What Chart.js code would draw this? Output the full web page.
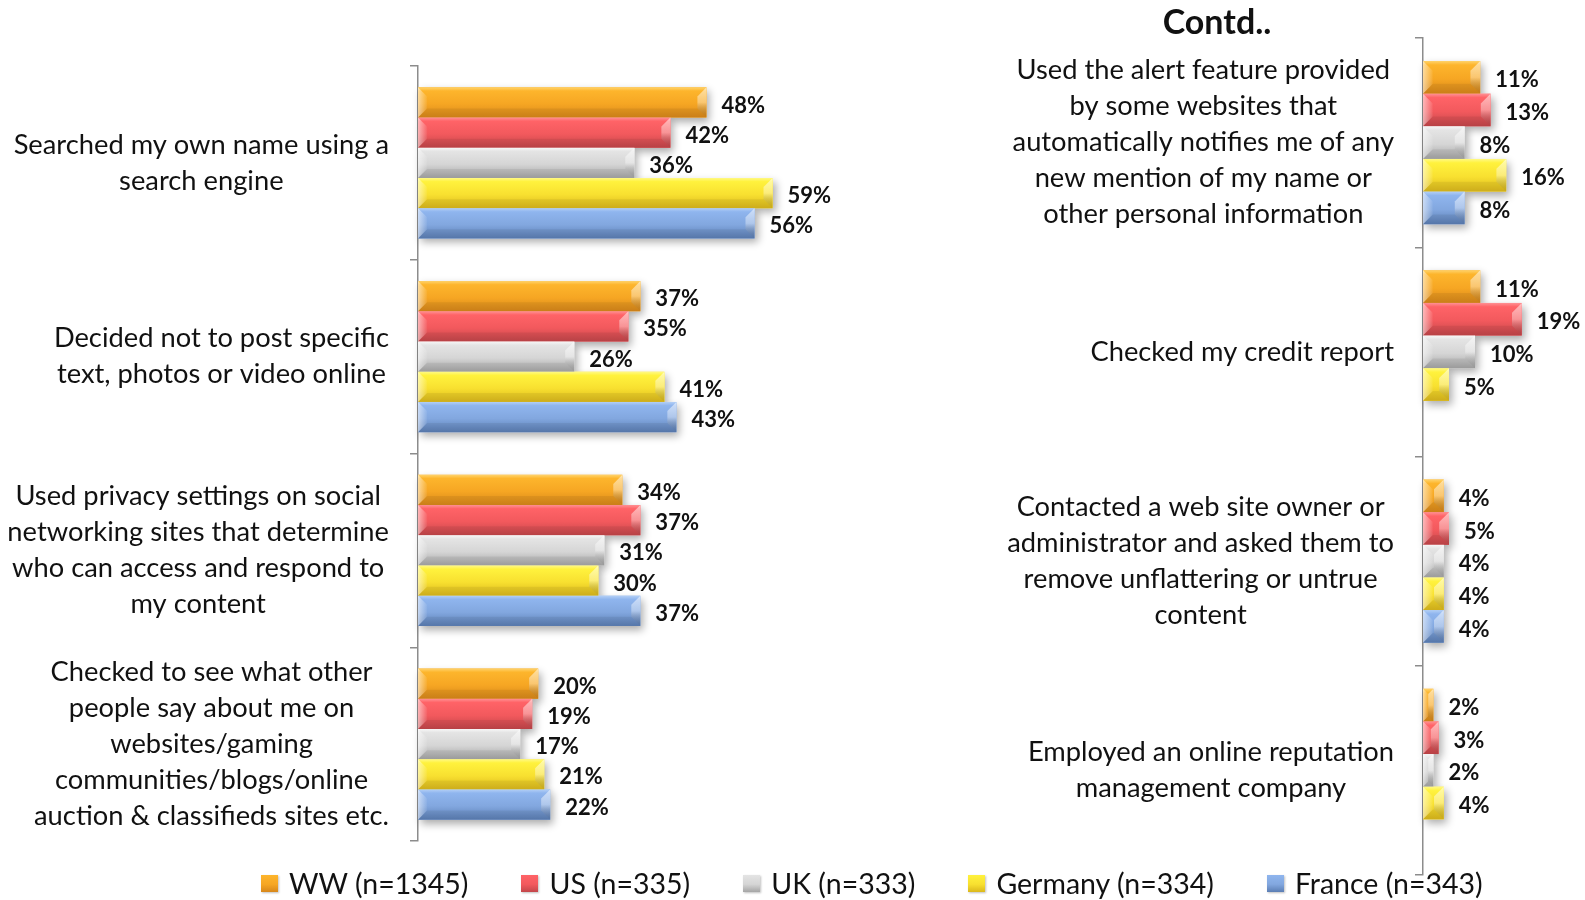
<!DOCTYPE html>
<html>
<head>
<meta charset="utf-8">
<title>Online reputation actions</title>
<script src="https://cdn.jsdelivr.net/npm/chart.js@4.4.1/dist/chart.umd.min.js"></script>
<style>
body { margin: 0; background: #fff; font-family: Lato, sans-serif; color: #111; }
#wrap { position: relative; width: 1585px; height: 900px; overflow: hidden; }
#wrap canvas { position: absolute; left: 0; top: 0; }
#contd { position: absolute; left: 1117px; top: 1px; width: 200px; text-align: center; font-weight: bold; font-size: 34px; line-height: 40px; }
#legend { position: absolute; left: 261px; top: 865px; display: flex; align-items: center; gap: 53px; font-size: 28.5px; line-height: 36px; }
#legend span.item { display: flex; align-items: center; }
#legend span.box { display: inline-block; width: 17px; height: 17px; margin-right: 11px; box-shadow: 1px 1px 2px rgba(0,0,0,0.25); }
</style>
</head>
<body>
<div id="wrap">
  <canvas id="left-chart" width="1585" height="900"></canvas>
  <canvas id="right-chart" width="1585" height="900"></canvas>
  <div id="contd">Contd..</div>
  <div id="legend"></div>
</div>
<script type="text/javascript">
var seriesNames = ["WW (n=1345)", "US (n=335)", "UK (n=333)", "Germany (n=334)", "France (n=343)"];

var leftCategories = [
  ["Searched my own name using a", "search engine"],
  ["Decided not to post specific", "text, photos or video online"],
  ["Used privacy settings on social", "networking sites that determine", "who can access and respond to", "my content"],
  ["Checked to see what other", "people say about me on", "websites/gaming", "communities/blogs/online", "auction & classifieds sites etc."]
];
var leftWW      = [48, 37, 34, 20];
var leftUS      = [42, 35, 37, 19];
var leftUK      = [36, 26, 31, 17];
var leftGermany = [59, 41, 30, 21];
var leftFrance  = [56, 43, 37, 22];

var rightCategories = [
  ["Used the alert feature provided", "by some websites that", "automatically notifies me of any", "new mention of my name or", "other personal information"],
  ["Checked my credit report"],
  ["Contacted a web site owner or", "administrator and asked them to", "remove unflattering or untrue", "content"],
  ["Employed an online reputation", "management company"]
];
var rightWW      = [11, 11, 4, 2];
var rightUS      = [13, 19, 5, 3];
var rightUK      = [8, 10, 4, 2];
var rightGermany = [16, 5, 4, 4];
var rightFrance  = [8, null, 4, null];

// colour ramps for the bevelled bars: light edge, top, middle, dark bottom
var seriesColors = [
  ["#FFD36B", "#FDB52C", "#F6A623", "#D7871A"],
  ["#FF9194", "#FF6367", "#F2595D", "#C3464A"],
  ["#F7F7F7", "#E4E4E4", "#D5D5D5", "#A5A5A5"],
  ["#FFF985", "#FFF23D", "#F8E030", "#DBB81C"],
  ["#B3CFF6", "#8FB5EE", "#82A7DF", "#5B7EB4"]
];

function barRect(bar) {
  var p = bar.getProps(["x", "y", "base", "height"], true);
  var l = Math.min(p.x, p.base);
  return { l: l, t: p.y - p.height / 2, w: Math.abs(p.x - p.base), h: p.height, y: p.y, r: l + Math.abs(p.x - p.base) };
}

function eachBar(chart, fn) {
  chart.data.datasets.forEach(function(ds, di) {
    var meta = chart.getDatasetMeta(di);
    meta.data.forEach(function(bar, i) {
      if (ds.data[i] == null) return;
      fn(barRect(bar), di, ds.data[i]);
    });
  });
}

var bevelPlugin = {
  id: "bevel",
  beforeDatasetsDraw: function(chart) {
    // soft drop shadow behind each group of bars
    var c = chart.ctx;
    c.save();
    c.shadowColor = "rgba(0,0,0,0.33)";
    c.shadowBlur = 8;
    c.shadowOffsetX = 3;
    c.shadowOffsetY = 4;
    c.fillStyle = "#fff";
    eachBar(chart, function(r) { c.fillRect(r.l, r.t, r.w, r.h); });
    c.restore();
  },
  afterDatasetsDraw: function(chart) {
    var c = chart.ctx;
    c.save();
    eachBar(chart, function(r, di) {
      var col = seriesColors[di];
      var g = c.createLinearGradient(0, r.t, 0, r.t + r.h);
      g.addColorStop(0, col[0]);
      g.addColorStop(0.12, col[1]);
      g.addColorStop(0.55, col[2]);
      g.addColorStop(1, col[3]);
      c.fillStyle = g;
      c.fillRect(r.l, r.t, r.w, r.h);

      var b = Math.min(r.h * 0.3, r.w / 2);
      // left end bevel
      var gl = c.createLinearGradient(r.l, 0, r.l + b, 0);
      gl.addColorStop(0, "rgba(255,255,255,0.55)");
      gl.addColorStop(1, "rgba(255,255,255,0.05)");
      c.fillStyle = gl;
      c.beginPath();
      c.moveTo(r.l, r.t);
      c.lineTo(r.l + b, r.t + b);
      c.lineTo(r.l + b, r.t + r.h - b);
      c.lineTo(r.l, r.t + r.h);
      c.closePath();
      c.fill();
      // right end bevel
      var gr = c.createLinearGradient(0, r.t, 0, r.t + r.h);
      gr.addColorStop(0, "rgba(255,255,255,0.55)");
      gr.addColorStop(0.5, "rgba(255,255,255,0.35)");
      gr.addColorStop(1, "rgba(0,0,0,0.08)");
      c.fillStyle = gr;
      c.beginPath();
      c.moveTo(r.r, r.t);
      c.lineTo(r.r - b, r.t + b);
      c.lineTo(r.r - b, r.t + r.h - b);
      c.lineTo(r.r, r.t + r.h);
      c.closePath();
      c.fill();
      // bottom shade
      c.fillStyle = "rgba(0,0,0,0.06)";
      c.beginPath();
      c.moveTo(r.l, r.t + r.h);
      c.lineTo(r.l + b, r.t + r.h - b);
      c.lineTo(r.r - b, r.t + r.h - b);
      c.lineTo(r.r, r.t + r.h);
      c.closePath();
      c.fill();
    });
    c.restore();
  },
  afterDraw: function(chart) {
    var c = chart.ctx;
    var yScale = chart.scales.y;
    var axisX = chart.chartArea.left;
    c.save();
    // category labels, each block centred on itself and right-aligned to the axis
    c.font = "27.3px Lato";
    c.fillStyle = "#111";
    c.textBaseline = "middle";
    c.textAlign = "center";
    chart.data.labels.forEach(function(lines, i) {
      var w = 0;
      lines.forEach(function(s) { w = Math.max(w, c.measureText(s).width); });
      var cx = axisX - 29 - w / 2;
      var yc = yScale.getPixelForValue(i);
      lines.forEach(function(s, k) {
        c.fillText(s, cx, yc + (k - (lines.length - 1) / 2) * 36);
      });
    });
    // value labels
    c.font = "bold 22px Lato";
    c.textAlign = "left";
    eachBar(chart, function(r, di, v) {
      c.fillText(v + "%", r.r + 15, r.y + 3);
    });
    c.restore();
  }
};

function makeDatasets(values) {
  return values.map(function(vals, i) {
    return {
      label: seriesNames[i],
      data: vals,
      backgroundColor: seriesColors[i][2],
      borderWidth: 0,
      categoryPercentage: 0.78,
      barPercentage: 1
    };
  });
}

function makeOptions(max, padding) {
  return {
    indexAxis: "y",
    responsive: false,
    animation: false,
    devicePixelRatio: 1,
    layout: { padding: padding },
    plugins: { legend: { display: false }, tooltip: { enabled: false } },
    scales: {
      x: { display: false, min: 0, max: max },
      y: {
        ticks: { display: false },
        grid: { display: true, drawOnChartArea: false, drawTicks: true, tickLength: 8, color: "#8c8c8c", lineWidth: 1.5 },
        border: { display: true, color: "#8c8c8c", width: 1.5 }
      }
    }
  };
}

new Chart(document.getElementById("left-chart"), {
  type: "bar",
  data: {
    labels: leftCategories,
    datasets: makeDatasets([leftWW, leftUS, leftUK, leftGermany, leftFrance])
  },
  options: makeOptions(99, { left: 410, top: 66, bottom: 59, right: 572 }),
  plugins: [bevelPlugin]
});

new Chart(document.getElementById("right-chart"), {
  type: "bar",
  data: {
    labels: rightCategories,
    datasets: makeDatasets([rightWW, rightUS, rightUK, rightGermany, rightFrance])
  },
  options: makeOptions(30, { left: 1415, top: 38, bottom: 25, right: 6 }),
  plugins: [bevelPlugin]
});

// legend
var legend = document.getElementById("legend");
seriesNames.forEach(function(name, i) {
  var col = seriesColors[i];
  var item = document.createElement("span");
  item.className = "item";
  var box = document.createElement("span");
  box.className = "box";
  box.style.background = "linear-gradient(" + col[1] + ", " + col[2] + " 55%, " + col[3] + ")";
  item.appendChild(box);
  item.appendChild(document.createTextNode(name));
  legend.appendChild(item);
});
</script>
</body>
</html>
